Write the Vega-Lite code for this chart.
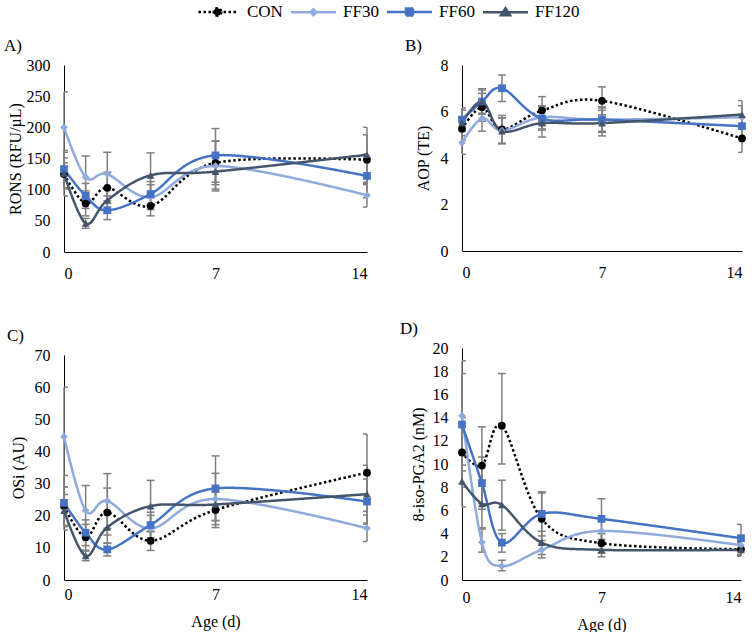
{
  "$schema": "https://vega.github.io/schema/vega-lite/v6.json",
  "background": "white",
  "padding": {"left": 4, "top": 3, "right": 0, "bottom": 0},
  "datasets": {
    "d": [
      {"panel": "A", "series": "CON", "age": 0, "v": 125, "lo": 90, "hi": 160},
      {"panel": "A", "series": "CON", "age": 1, "v": 78, "lo": 58, "hi": 98},
      {"panel": "A", "series": "CON", "age": 2, "v": 103, "lo": 78, "hi": 128},
      {"panel": "A", "series": "CON", "age": 4, "v": 74, "lo": 58, "hi": 90},
      {"panel": "A", "series": "CON", "age": 7, "v": 143, "lo": 108, "hi": 178},
      {"panel": "A", "series": "CON", "age": 14, "v": 148, "lo": 108, "hi": 188},
      {"panel": "A", "series": "FF30", "age": 0, "v": 200, "lo": 143, "hi": 257},
      {"panel": "A", "series": "FF30", "age": 1, "v": 120, "lo": 85, "hi": 154},
      {"panel": "A", "series": "FF30", "age": 2, "v": 125, "lo": 90, "hi": 160},
      {"panel": "A", "series": "FF30", "age": 4, "v": 88, "lo": 68, "hi": 108},
      {"panel": "A", "series": "FF30", "age": 7, "v": 138, "lo": 98, "hi": 178},
      {"panel": "A", "series": "FF30", "age": 14, "v": 91, "lo": 72, "hi": 110},
      {"panel": "A", "series": "FF60", "age": 0, "v": 133, "lo": 103, "hi": 163},
      {"panel": "A", "series": "FF60", "age": 1, "v": 90, "lo": 70, "hi": 110},
      {"panel": "A", "series": "FF60", "age": 2, "v": 67, "lo": 52, "hi": 82},
      {"panel": "A", "series": "FF60", "age": 4, "v": 93, "lo": 73, "hi": 113},
      {"panel": "A", "series": "FF60", "age": 7, "v": 155, "lo": 112, "hi": 198},
      {"panel": "A", "series": "FF60", "age": 14, "v": 122, "lo": 87, "hi": 157},
      {"panel": "A", "series": "FF120", "age": 0, "v": 126, "lo": 101, "hi": 151},
      {"panel": "A", "series": "FF120", "age": 1, "v": 46, "lo": 38, "hi": 54},
      {"panel": "A", "series": "FF120", "age": 2, "v": 83, "lo": 63, "hi": 103},
      {"panel": "A", "series": "FF120", "age": 4, "v": 123, "lo": 87, "hi": 159},
      {"panel": "A", "series": "FF120", "age": 7, "v": 129, "lo": 101, "hi": 157},
      {"panel": "A", "series": "FF120", "age": 14, "v": 156, "lo": 112, "hi": 200},

      {"panel": "B", "series": "CON", "age": 0, "v": 5.26, "lo": 4.76, "hi": 5.76},
      {"panel": "B", "series": "CON", "age": 1, "v": 6.18, "lo": 5.58, "hi": 6.78},
      {"panel": "B", "series": "CON", "age": 2, "v": 5.23, "lo": 4.63, "hi": 5.83},
      {"panel": "B", "series": "CON", "age": 4, "v": 6.04, "lo": 5.44, "hi": 6.64},
      {"panel": "B", "series": "CON", "age": 7, "v": 6.46, "lo": 5.86, "hi": 7.06},
      {"panel": "B", "series": "CON", "age": 14, "v": 4.84, "lo": 4.24, "hi": 5.44},
      {"panel": "B", "series": "FF30", "age": 0, "v": 4.66, "lo": 4.16, "hi": 5.16},
      {"panel": "B", "series": "FF30", "age": 1, "v": 5.7, "lo": 5.15, "hi": 6.25},
      {"panel": "B", "series": "FF30", "age": 2, "v": 5.18, "lo": 4.63, "hi": 5.73},
      {"panel": "B", "series": "FF30", "age": 4, "v": 5.75, "lo": 5.25, "hi": 6.25},
      {"panel": "B", "series": "FF30", "age": 7, "v": 5.65, "lo": 5.15, "hi": 6.15},
      {"panel": "B", "series": "FF30", "age": 14, "v": 5.75, "lo": 5.25, "hi": 6.25},
      {"panel": "B", "series": "FF60", "age": 0, "v": 5.65, "lo": 5.15, "hi": 6.15},
      {"panel": "B", "series": "FF60", "age": 1, "v": 6.43, "lo": 5.93, "hi": 6.93},
      {"panel": "B", "series": "FF60", "age": 2, "v": 7.0, "lo": 6.43, "hi": 7.57},
      {"panel": "B", "series": "FF60", "age": 4, "v": 5.7, "lo": 5.2, "hi": 6.2},
      {"panel": "B", "series": "FF60", "age": 7, "v": 5.65, "lo": 5.1, "hi": 6.2},
      {"panel": "B", "series": "FF60", "age": 14, "v": 5.37, "lo": 4.87, "hi": 5.87},
      {"panel": "B", "series": "FF120", "age": 0, "v": 5.51, "lo": 4.96, "hi": 6.06},
      {"panel": "B", "series": "FF120", "age": 1, "v": 6.43, "lo": 5.88, "hi": 6.98},
      {"panel": "B", "series": "FF120", "age": 2, "v": 5.16, "lo": 4.61, "hi": 5.71},
      {"panel": "B", "series": "FF120", "age": 4, "v": 5.5, "lo": 4.9, "hi": 6.1},
      {"panel": "B", "series": "FF120", "age": 7, "v": 5.5, "lo": 4.95, "hi": 6.05},
      {"panel": "B", "series": "FF120", "age": 14, "v": 5.87, "lo": 5.27, "hi": 6.47},

      {"panel": "C", "series": "CON", "age": 0, "v": 23, "lo": 17, "hi": 29},
      {"panel": "C", "series": "CON", "age": 1, "v": 13.3, "lo": 9.3, "hi": 17.3},
      {"panel": "C", "series": "CON", "age": 2, "v": 21, "lo": 14, "hi": 28.6},
      {"panel": "C", "series": "CON", "age": 4, "v": 12.2, "lo": 9.2, "hi": 15.2},
      {"panel": "C", "series": "CON", "age": 7, "v": 21.8, "lo": 16.3, "hi": 27.3},
      {"panel": "C", "series": "CON", "age": 14, "v": 33.4, "lo": 21.4, "hi": 45.4},
      {"panel": "C", "series": "FF30", "age": 0, "v": 44.6, "lo": 29, "hi": 60},
      {"panel": "C", "series": "FF30", "age": 1, "v": 21.6, "lo": 13.8, "hi": 29.4},
      {"panel": "C", "series": "FF30", "age": 2, "v": 24.6, "lo": 16.1, "hi": 33.1},
      {"panel": "C", "series": "FF30", "age": 4, "v": 16.1, "lo": 12.1, "hi": 20.1},
      {"panel": "C", "series": "FF30", "age": 7, "v": 25.2, "lo": 17.2, "hi": 33.2},
      {"panel": "C", "series": "FF30", "age": 14, "v": 16.1, "lo": 12, "hi": 20.2},
      {"panel": "C", "series": "FF60", "age": 0, "v": 24, "lo": 15.5, "hi": 32.5},
      {"panel": "C", "series": "FF60", "age": 1, "v": 14.7, "lo": 10.7, "hi": 18.7},
      {"panel": "C", "series": "FF60", "age": 2, "v": 9.5, "lo": 7.5, "hi": 11.5},
      {"panel": "C", "series": "FF60", "age": 4, "v": 17.1, "lo": 13.1, "hi": 21.1},
      {"panel": "C", "series": "FF60", "age": 7, "v": 28.5, "lo": 18.5, "hi": 38.6},
      {"panel": "C", "series": "FF60", "age": 14, "v": 24.4, "lo": 17.4, "hi": 31.4},
      {"panel": "C", "series": "FF120", "age": 0, "v": 21.6, "lo": 16.6, "hi": 26.6},
      {"panel": "C", "series": "FF120", "age": 1, "v": 7.5, "lo": 6, "hi": 9},
      {"panel": "C", "series": "FF120", "age": 2, "v": 16.4, "lo": 11.4, "hi": 21.4},
      {"panel": "C", "series": "FF120", "age": 4, "v": 23, "lo": 15, "hi": 31},
      {"panel": "C", "series": "FF120", "age": 7, "v": 23.5, "lo": 18.5, "hi": 28.5},
      {"panel": "C", "series": "FF120", "age": 14, "v": 26.7, "lo": 17.7, "hi": 35.7},

      {"panel": "D", "series": "CON", "age": 0, "v": 11.0, "lo": 8, "hi": 14},
      {"panel": "D", "series": "CON", "age": 1, "v": 9.87, "lo": 6.57, "hi": 13.2},
      {"panel": "D", "series": "CON", "age": 2, "v": 13.3, "lo": 10, "hi": 17.8},
      {"panel": "D", "series": "CON", "age": 4, "v": 5.27, "lo": 3.1, "hi": 7.5},
      {"panel": "D", "series": "CON", "age": 7, "v": 3.17, "lo": 2.3, "hi": 4.0},
      {"panel": "D", "series": "CON", "age": 14, "v": 2.65, "lo": 2.05, "hi": 3.25},
      {"panel": "D", "series": "FF30", "age": 0, "v": 14.16, "lo": 9.4, "hi": 18.9},
      {"panel": "D", "series": "FF30", "age": 1, "v": 3.25, "lo": 2.4, "hi": 4.4},
      {"panel": "D", "series": "FF30", "age": 2, "v": 1.2, "lo": 0.8, "hi": 1.7},
      {"panel": "D", "series": "FF30", "age": 4, "v": 2.6, "lo": 1.9, "hi": 3.4},
      {"panel": "D", "series": "FF30", "age": 7, "v": 4.23, "lo": 3.2, "hi": 5.2},
      {"panel": "D", "series": "FF30", "age": 14, "v": 3.0, "lo": 2.2, "hi": 3.8},
      {"panel": "D", "series": "FF60", "age": 0, "v": 13.4, "lo": 9.9, "hi": 17.8},
      {"panel": "D", "series": "FF60", "age": 1, "v": 8.35, "lo": 6.1, "hi": 10.6},
      {"panel": "D", "series": "FF60", "age": 2, "v": 3.22, "lo": 2.4, "hi": 4.0},
      {"panel": "D", "series": "FF60", "age": 4, "v": 5.7, "lo": 3.8, "hi": 7.6},
      {"panel": "D", "series": "FF60", "age": 7, "v": 5.27, "lo": 3.5, "hi": 7.0},
      {"panel": "D", "series": "FF60", "age": 14, "v": 3.6, "lo": 2.5, "hi": 4.8},
      {"panel": "D", "series": "FF120", "age": 0, "v": 8.5, "lo": 6.3, "hi": 10.7},
      {"panel": "D", "series": "FF120", "age": 1, "v": 6.56, "lo": 4.5, "hi": 8.6},
      {"panel": "D", "series": "FF120", "age": 2, "v": 6.47, "lo": 4.3, "hi": 8.6},
      {"panel": "D", "series": "FF120", "age": 4, "v": 3.22, "lo": 2.2, "hi": 4.2},
      {"panel": "D", "series": "FF120", "age": 7, "v": 2.6, "lo": 2.0, "hi": 3.2},
      {"panel": "D", "series": "FF120", "age": 14, "v": 2.6, "lo": 2.1, "hi": 3.1}
    ]
  },
  "data": {"name": "d"},
  "config": {
    "font": "Liberation Serif",
    "view": {"stroke": null},
    "axis": {
      "grid": false, "ticks": false, "tickSize": 0, "labelOverlap": false,
      "domainColor": "#000000", "domainWidth": 1,
      "labelColor": "#000000", "titleColor": "#000000",
      "labelFont": "Liberation Serif", "titleFont": "Liberation Serif",
      "labelFontSize": 16, "titleFontSize": 16, "titleFontWeight": "normal"
    },
    "axisX": {"labelPadding": 13, "titlePadding": 6},
    "axisY": {"labelPadding": 14, "labelOverlap": false},
    "title": {"anchor": "start", "frame": "bounds", "font": "Liberation Serif", "fontSize": 17, "fontWeight": "normal", "color": "#000000", "offset": 2}
  },
  "spacing": 28,
  "hconcat": [
    {
      "bounds": "flush",
      "spacing": 103,
      "vconcat": [
        {
          "title": {"text": "A)", "dx": -3},
          "width": 303, "height": 187,
          "transform": [{"filter": "datum.panel === 'A'"}],
          "encoding": {"x": {"field": "age", "type": "quantitative", "scale": {"domain": [0, 14], "nice": false}, "axis": {"values": [0, 7, 14], "title": null}}},
          "layer": [
            {"mark": {"type": "rule", "color": "#7f7f7f", "strokeWidth": 1.5},
             "encoding": {"y": {"field": "lo", "type": "quantitative", "title": "RONS (RFU/µL)", "scale": {"domain": [0, 300], "nice": false}, "axis": {"values": [0, 50, 100, 150, 200, 250, 300], "tickCount": 7, "titlePadding": 3, "labelOverlap": false}}, "y2": {"field": "hi"}}},
            {"mark": {"type": "tick", "orient": "horizontal", "size": 8, "thickness": 1.5, "color": "#7f7f7f", "clip": true, "opacity": 1},
             "encoding": {"y": {"field": "lo", "type": "quantitative", "title": "RONS (RFU/µL)", "axis": {"values": [0, 50, 100, 150, 200, 250, 300], "tickCount": 7, "titlePadding": 3, "labelOverlap": false}}}},
            {"mark": {"type": "tick", "orient": "horizontal", "size": 8, "thickness": 1.5, "color": "#7f7f7f", "clip": true, "opacity": 1},
             "encoding": {"y": {"field": "hi", "type": "quantitative", "title": "RONS (RFU/µL)", "axis": {"values": [0, 50, 100, 150, 200, 250, 300], "tickCount": 7, "titlePadding": 3, "labelOverlap": false}}}},
            {"mark": {"type": "line", "interpolate": "cardinal", "strokeWidth": 2.5},
             "encoding": {
               "y": {"field": "v", "type": "quantitative", "title": "RONS (RFU/µL)", "axis": {"values": [0, 50, 100, 150, 200, 250, 300], "tickCount": 7, "titlePadding": 3, "labelOverlap": false}},
               "color": {"field": "series", "type": "nominal", "scale": {"domain": ["CON", "FF30", "FF60", "FF120"], "range": ["#000000", "#8FAADC", "#4472C4", "#44546A"]},
                 "legend": {"orient": "none", "legendX": 145, "legendY": -62, "direction": "horizontal", "title": null, "padding": 0, "symbolSize": 100, "labelFont": "Liberation Serif", "labelFontSize": 17, "labelColor": "#000000", "labelOffset": 21, "columnPadding": 3, "symbolStrokeWidth": 2.5,
                   "encode": {"symbols": {"update": {
                     "shape": {"signal": "datum.value === 'CON' ? 'M-3.8,0H3.8M0.75,0A0.75,0.75,0,1,1,-0.75,0A0.75,0.75,0,1,1,0.75,0Z' : datum.value === 'FF30' ? 'M-4.5,0H4.5M0,-0.6L0.55,0L0,0.6L-0.55,0Z' : datum.value === 'FF60' ? 'M-4.5,0H4.5M-0.7,-0.7H0.7V0.7H-0.7Z' : 'M-4.5,0H4.5M0,-0.8L0.9,0.6H-0.9Z'", "value": {"signal": "datum.value === 'CON' ? 'M-3.8,0H3.8M0.75,0A0.75,0.75,0,1,1,-0.75,0A0.75,0.75,0,1,1,0.75,0Z' : datum.value === 'FF30' ? 'M-4.5,0H4.5M0,-0.6L0.55,0L0,0.6L-0.55,0Z' : datum.value === 'FF60' ? 'M-4.5,0H4.5M-0.7,-0.7H0.7V0.7H-0.7Z' : 'M-4.5,0H4.5M0,-0.8L0.9,0.6H-0.9Z'"}},
                     "fill": {"signal": "scale('color', datum.value)", "value": {"signal": "scale('color', datum.value)"}},
                     "stroke": {"signal": "scale('color', datum.value)", "value": {"signal": "scale('color', datum.value)"}},
                     "strokeDash": {"signal": "datum.value === 'CON' ? [2.5, 2.5] : [1, 0]", "value": {"signal": "datum.value === 'CON' ? [2.5, 2.5] : [1, 0]"}},
                     "strokeWidth": {"value": 2.5},
                     "opacity": {"value": 1}
                   }}}}},
               "strokeDash": {"field": "series", "type": "nominal", "scale": {"domain": ["FF120", "FF60", "FF30", "CON"], "range": [[1, 0], [1, 0], [1, 0], [2.5, 2.5]]}, "legend": null}
             }},
            {"mark": {"type": "point", "filled": true, "opacity": 1, "size": 60},
             "encoding": {
               "y": {"field": "v", "type": "quantitative", "title": "RONS (RFU/µL)", "axis": {"values": [0, 50, 100, 150, 200, 250, 300], "tickCount": 7, "titlePadding": 3, "labelOverlap": false}},
               "color": {"field": "series", "type": "nominal", "legend": null},
               "shape": {"field": "series", "type": "nominal", "scale": {"domain": ["FF120", "FF60", "FF30", "CON"], "range": ["triangle-up", "square", "diamond", "circle"]}, "legend": null}
             }}
          ]
        },
        {
          "title": {"text": "C)", "dx": -3},
          "width": 303, "height": 225,
          "transform": [{"filter": "datum.panel === 'C'"}],
          "encoding": {"x": {"field": "age", "type": "quantitative", "scale": {"domain": [0, 14], "nice": false}, "axis": {"values": [0, 7, 14], "title": "Age (d)", "labelPadding": 6, "titlePadding": 11}}},
          "layer": [
            {"mark": {"type": "rule", "color": "#7f7f7f", "strokeWidth": 1.5},
             "encoding": {"y": {"field": "lo", "type": "quantitative", "title": "OSi (AU)", "scale": {"domain": [0, 70], "nice": false}, "axis": {"values": [0, 10, 20, 30, 40, 50, 60, 70], "tickCount": 8, "titlePadding": 8, "labelOverlap": false}}, "y2": {"field": "hi"}}},
            {"mark": {"type": "tick", "orient": "horizontal", "size": 8, "thickness": 1.5, "color": "#7f7f7f", "clip": true, "opacity": 1},
             "encoding": {"y": {"field": "lo", "type": "quantitative", "title": "OSi (AU)", "axis": {"values": [0, 10, 20, 30, 40, 50, 60, 70], "tickCount": 8, "titlePadding": 8, "labelOverlap": false}}}},
            {"mark": {"type": "tick", "orient": "horizontal", "size": 8, "thickness": 1.5, "color": "#7f7f7f", "clip": true, "opacity": 1},
             "encoding": {"y": {"field": "hi", "type": "quantitative", "title": "OSi (AU)", "axis": {"values": [0, 10, 20, 30, 40, 50, 60, 70], "tickCount": 8, "titlePadding": 8, "labelOverlap": false}}}},
            {"mark": {"type": "line", "interpolate": "cardinal", "strokeWidth": 2.5},
             "encoding": {
               "y": {"field": "v", "type": "quantitative", "title": "OSi (AU)", "axis": {"values": [0, 10, 20, 30, 40, 50, 60, 70], "tickCount": 8, "titlePadding": 8, "labelOverlap": false}},
               "color": {"field": "series", "type": "nominal", "legend": null},
               "strokeDash": {"field": "series", "type": "nominal", "scale": {"domain": ["FF120", "FF60", "FF30", "CON"], "range": [[1, 0], [1, 0], [1, 0], [2.5, 2.5]]}, "legend": null}
             }},
            {"mark": {"type": "point", "filled": true, "opacity": 1, "size": 60},
             "encoding": {
               "y": {"field": "v", "type": "quantitative", "title": "OSi (AU)", "axis": {"values": [0, 10, 20, 30, 40, 50, 60, 70], "tickCount": 8, "titlePadding": 8, "labelOverlap": false}},
               "color": {"field": "series", "type": "nominal", "legend": null},
               "shape": {"field": "series", "type": "nominal", "scale": {"domain": ["FF120", "FF60", "FF30", "CON"], "range": ["triangle-up", "square", "diamond", "circle"]}, "legend": null}
             }}
          ]
        }
      ]
    },
    {
      "bounds": "flush",
      "spacing": 97,
      "vconcat": [
        {
          "title": {"text": "B)", "dx": -10},
          "width": 280, "height": 186,
          "transform": [{"filter": "datum.panel === 'B'"}],
          "encoding": {"x": {"field": "age", "type": "quantitative", "scale": {"domain": [0, 14], "nice": false}, "axis": {"values": [0, 7, 14], "title": null}}},
          "layer": [
            {"mark": {"type": "rule", "color": "#7f7f7f", "strokeWidth": 1.5},
             "encoding": {"y": {"field": "lo", "type": "quantitative", "title": "AOP (TE)", "scale": {"domain": [0, 8], "nice": false}, "axis": {"values": [0, 2, 4, 6, 8], "tickCount": 5, "titlePadding": 9, "labelOverlap": false}}, "y2": {"field": "hi"}}},
            {"mark": {"type": "tick", "orient": "horizontal", "size": 8, "thickness": 1.5, "color": "#7f7f7f", "clip": true, "opacity": 1},
             "encoding": {"y": {"field": "lo", "type": "quantitative", "title": "AOP (TE)", "axis": {"values": [0, 2, 4, 6, 8], "tickCount": 5, "titlePadding": 9, "labelOverlap": false}}}},
            {"mark": {"type": "tick", "orient": "horizontal", "size": 8, "thickness": 1.5, "color": "#7f7f7f", "clip": true, "opacity": 1},
             "encoding": {"y": {"field": "hi", "type": "quantitative", "title": "AOP (TE)", "axis": {"values": [0, 2, 4, 6, 8], "tickCount": 5, "titlePadding": 9, "labelOverlap": false}}}},
            {"mark": {"type": "line", "interpolate": "cardinal", "strokeWidth": 2.5},
             "encoding": {
               "y": {"field": "v", "type": "quantitative", "title": "AOP (TE)", "axis": {"values": [0, 2, 4, 6, 8], "tickCount": 5, "titlePadding": 9, "labelOverlap": false}},
               "color": {"field": "series", "type": "nominal", "legend": null},
               "strokeDash": {"field": "series", "type": "nominal", "scale": {"domain": ["FF120", "FF60", "FF30", "CON"], "range": [[1, 0], [1, 0], [1, 0], [2.5, 2.5]]}, "legend": null}
             }},
            {"mark": {"type": "point", "filled": true, "opacity": 1, "size": 60},
             "encoding": {
               "y": {"field": "v", "type": "quantitative", "title": "AOP (TE)", "axis": {"values": [0, 2, 4, 6, 8], "tickCount": 5, "titlePadding": 9, "labelOverlap": false}},
               "color": {"field": "series", "type": "nominal", "legend": null},
               "shape": {"field": "series", "type": "nominal", "scale": {"domain": ["FF120", "FF60", "FF30", "CON"], "range": ["triangle-up", "square", "diamond", "circle"]}, "legend": null}
             }}
          ]
        },
        {
          "title": {"text": "D)", "dx": -10},
          "width": 279, "height": 232,
          "transform": [{"filter": "datum.panel === 'D'"}],
          "encoding": {"x": {"field": "age", "type": "quantitative", "scale": {"domain": [0, 14], "nice": false}, "axis": {"values": [0, 7, 14], "title": "Age (d)", "labelPadding": 9, "titlePadding": 11}}},
          "layer": [
            {"mark": {"type": "rule", "color": "#7f7f7f", "strokeWidth": 1.5},
             "encoding": {"y": {"field": "lo", "type": "quantitative", "title": "8-iso-PGA2 (nM)", "scale": {"domain": [0, 20], "nice": false}, "axis": {"values": [0, 2, 4, 6, 8, 10, 12, 14, 16, 18, 20], "tickCount": 11, "titlePadding": 6, "labelOverlap": false}}, "y2": {"field": "hi"}}},
            {"mark": {"type": "tick", "orient": "horizontal", "size": 8, "thickness": 1.5, "color": "#7f7f7f", "clip": true, "opacity": 1},
             "encoding": {"y": {"field": "lo", "type": "quantitative", "title": "8-iso-PGA2 (nM)", "axis": {"values": [0, 2, 4, 6, 8, 10, 12, 14, 16, 18, 20], "tickCount": 11, "titlePadding": 6, "labelOverlap": false}}}},
            {"mark": {"type": "tick", "orient": "horizontal", "size": 8, "thickness": 1.5, "color": "#7f7f7f", "clip": true, "opacity": 1},
             "encoding": {"y": {"field": "hi", "type": "quantitative", "title": "8-iso-PGA2 (nM)", "axis": {"values": [0, 2, 4, 6, 8, 10, 12, 14, 16, 18, 20], "tickCount": 11, "titlePadding": 6, "labelOverlap": false}}}},
            {"mark": {"type": "line", "interpolate": "cardinal", "strokeWidth": 2.5},
             "encoding": {
               "y": {"field": "v", "type": "quantitative", "title": "8-iso-PGA2 (nM)", "axis": {"values": [0, 2, 4, 6, 8, 10, 12, 14, 16, 18, 20], "tickCount": 11, "titlePadding": 6, "labelOverlap": false}},
               "color": {"field": "series", "type": "nominal", "legend": null},
               "strokeDash": {"field": "series", "type": "nominal", "scale": {"domain": ["FF120", "FF60", "FF30", "CON"], "range": [[1, 0], [1, 0], [1, 0], [2.5, 2.5]]}, "legend": null}
             }},
            {"mark": {"type": "point", "filled": true, "opacity": 1, "size": 60},
             "encoding": {
               "y": {"field": "v", "type": "quantitative", "title": "8-iso-PGA2 (nM)", "axis": {"values": [0, 2, 4, 6, 8, 10, 12, 14, 16, 18, 20], "tickCount": 11, "titlePadding": 6, "labelOverlap": false}},
               "color": {"field": "series", "type": "nominal", "legend": null},
               "shape": {"field": "series", "type": "nominal", "scale": {"domain": ["FF120", "FF60", "FF30", "CON"], "range": ["triangle-up", "square", "diamond", "circle"]}, "legend": null}
             }}
          ]
        }
      ]
    }
  ]
}
